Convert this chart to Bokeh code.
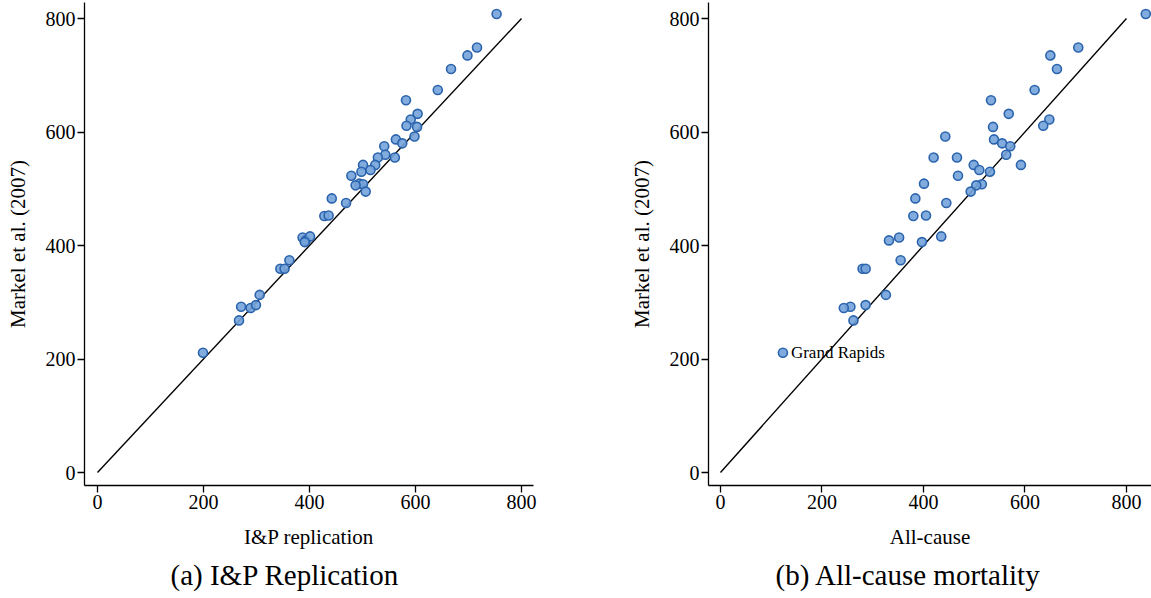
from bokeh.plotting import figure
from bokeh.layouts import row
from bokeh.models import FixedTicker, Title, Range1d, ColumnDataSource
from bokeh.core.properties import value
from bokeh.embed import file_html
from bokeh.resources import INLINE

# Markel et al. (2007) values (y, shared by both panels)
markel = [808, 749, 735, 711, 674, 656, 632, 622, 611, 609, 592, 587, 580, 575,
          560, 555, 555, 542, 542, 533, 530, 523, 509, 508, 506, 495, 483, 475,
          452, 453, 414, 409, 416, 406, 374, 359, 359, 313, 292, 290, 295, 268, 211]
# I&P replication values (x, panel a)
ip_replication = [753, 716, 698, 667, 642, 582, 604, 591, 583, 603, 598, 563, 575, 541,
                  543, 561, 529, 524, 501, 515, 498, 479, 494, 501, 487, 506, 442, 469,
                  428, 436, 387, 393, 401, 391, 362, 345, 353, 306, 271, 289, 299, 267, 199]
# All-cause mortality values (x, panel b)
all_cause = [838, 705, 650, 663, 619, 533, 568, 648, 636, 537, 443, 539, 555, 571,
             563, 420, 466, 499, 592, 510, 531, 468, 401, 515, 504, 493, 384, 445,
             380, 405, 352, 332, 435, 397, 355, 280, 286, 326, 256, 243, 286, 262, 123]
# labelled city in panel b
label_text = ["Grand Rapids"]
label_x = [123]
label_y = [211]
# 45-degree reference line
diag = [0, 800]
ticks = [0, 200, 400, 600, 800]

FONT = "Liberation Serif"
FILL = "#74a3da"
EDGE = "#2b64ad"
HEIGHT = 598
TOP = 2
FRAME_H = 483


def make_panel(xvals, xlabel, caption, x_start, x_end, width, border_right, cap_offset):
    p = figure(width=width, height=HEIGHT,
               x_range=Range1d(x_start, x_end), y_range=Range1d(-22.9, 828.2),
               output_backend="svg", toolbar_location=None,
               min_border_left=84, min_border_right=border_right,
               min_border_top=TOP, min_border_bottom=HEIGHT - TOP - FRAME_H)
    p.grid.visible = False
    p.outline_line_color = None
    p.background_fill_color = "white"
    p.border_fill_color = "white"

    p.line(diag, diag, line_color="black", line_width=1.4)
    src = ColumnDataSource(dict(x=xvals, y=markel))
    p.scatter("x", "y", source=src, size=9, fill_color=FILL, fill_alpha=0.9,
              line_color=EDGE, line_width=1.6)

    for ax in (p.xaxis[0], p.yaxis[0]):
        ax.ticker = FixedTicker(ticks=ticks)
        ax.minor_tick_line_color = None
        ax.axis_line_color = "black"
        ax.axis_line_width = 1.3
        ax.major_tick_line_color = "black"
        ax.major_tick_line_width = 1.3
        ax.major_tick_out = 7
        ax.major_tick_in = 0
        ax.major_label_text_font = FONT
        ax.major_label_text_font_size = "20px"
        ax.major_label_text_color = "black"
        ax.axis_label_text_font = FONT
        ax.axis_label_text_font_size = "21px"
        ax.axis_label_text_font_style = "normal"
        ax.axis_label_text_color = "black"
    p.xaxis.axis_label = xlabel
    p.yaxis.axis_label = "Markel et al. (2007)"
    p.xaxis.major_label_standoff = 2
    p.xaxis.axis_label_standoff = 13
    p.yaxis.major_label_standoff = 2
    p.yaxis.axis_label_standoff = 13

    p.add_layout(Title(text=caption, align="left", offset=cap_offset,
                       text_font=FONT, text_font_size="29px",
                       text_font_style="normal", text_color="black",
                       standoff=10), "below")
    return p


p1 = make_panel(ip_replication, "I&P replication", "(a) I&P Replication",
                -24.5, 822.6, 624, 91, 86)
p2 = make_panel(all_cause, "All-cause", "(b) All-cause mortality",
                -23.6, 849.3, 527, 0, 67)
p2.text(label_x, label_y, text=label_text, x_offset=8, text_baseline="middle",
        text_align="left", text_font=value(FONT), text_font_size="17px",
        text_color="black")

layout = row(p1, p2)
open("out.html", "w").write(file_html(layout, INLINE))
